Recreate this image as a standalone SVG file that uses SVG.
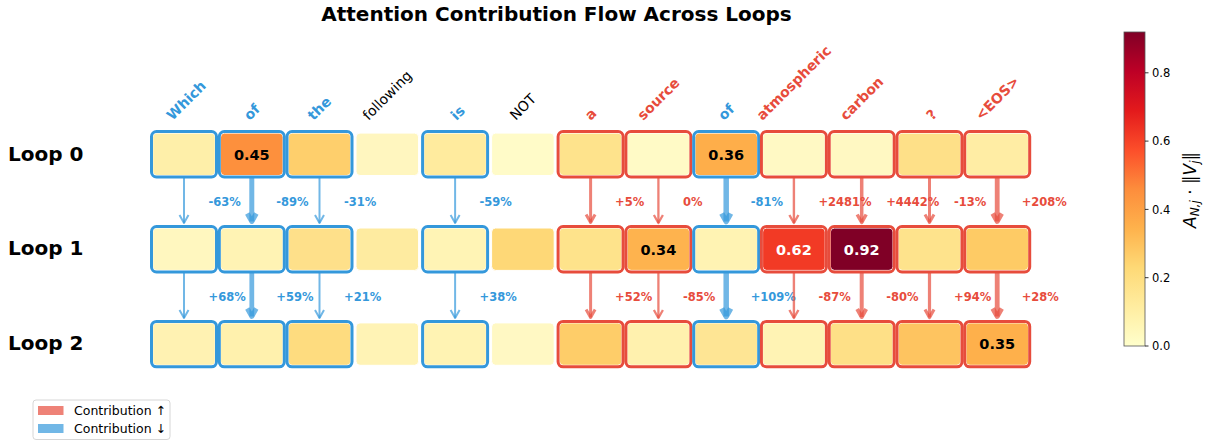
<svg xmlns="http://www.w3.org/2000/svg" width="1205" height="441" viewBox="0 0 1205 441">
  <defs>
    <linearGradient id="ylorrd" x1="0" y1="1" x2="0" y2="0">
      <stop offset="0" stop-color="#ffffcc"/>
      <stop offset="0.125" stop-color="#ffeda0"/>
      <stop offset="0.25" stop-color="#fed976"/>
      <stop offset="0.375" stop-color="#feb24c"/>
      <stop offset="0.5" stop-color="#fd8d3c"/>
      <stop offset="0.625" stop-color="#fc4e2a"/>
      <stop offset="0.75" stop-color="#e31a1c"/>
      <stop offset="0.875" stop-color="#bd0026"/>
      <stop offset="1" stop-color="#800026"/>
    </linearGradient>
  </defs>
  <style>
    text { font-family: "DejaVu Sans", "Liberation Sans", sans-serif; }
    .title { font-size: 20px; font-weight: bold; fill: #000; }
    .loop { font-size: 20px; font-weight: bold; fill: #000; }
    .tok { font-size: 14px; }
    .tok-b { fill: #3498db; font-weight: bold; }
    .tok-r { fill: #e74c3c; font-weight: bold; }
    .tok-k { fill: #000; }
    .cell { stroke: #ffffff; stroke-width: 1; }
    .ring { fill: none; stroke-width: 3; }
    .ring-b { stroke: #3498db; }
    .ring-r { stroke: #e74c3c; }
    .val { font-size: 14.5px; font-weight: bold; text-anchor: middle; }
    .shaft, .head { fill: none; stroke-opacity: 0.7; stroke-linecap: butt; stroke-linejoin: round; }
    .blue { stroke: #3498db; }
    .red { stroke: #e74c3c; }
    .pct { font-size: 11.5px; font-weight: bold; }
    .pct-b { fill: #3498db; }
    .pct-r { fill: #e74c3c; }
    .tick { font-size: 11.5px; fill: #000; }
    .legend { font-size: 12.5px; fill: #000; }
  </style>

  <text class="title" x="556.5" y="21" text-anchor="middle">Attention Contribution Flow Across Loops</text>

  <!-- row labels -->
  <g id="row-labels">
    <text class="loop" x="8" y="160.7">Loop 0</text>
    <text class="loop" x="8" y="255.3">Loop 1</text>
    <text class="loop" x="8" y="349.8">Loop 2</text>
  </g>

  <!-- token labels, rotated 45 degrees -->
  <g id="tokens" class="tok">
    <text class="tok-b" x="172.6" y="121" transform="rotate(-45 172.6 121)">Which</text>
    <text class="tok-b" x="249.7" y="121" transform="rotate(-45 249.7 121)">of</text>
    <text class="tok-b" x="313.6" y="121" transform="rotate(-45 313.6 121)">the</text>
    <text class="tok-k" x="368.4" y="121" transform="rotate(-45 368.4 121)">following</text>
    <text class="tok-b" x="456.6" y="121" transform="rotate(-45 456.6 121)">is</text>
    <text class="tok-k" x="515.7" y="121" transform="rotate(-45 515.7 121)">NOT</text>
    <text class="tok-r" x="590.7" y="121" transform="rotate(-45 590.7 121)">a</text>
    <text class="tok-r" x="643.3" y="121" transform="rotate(-45 643.3 121)">source</text>
    <text class="tok-b" x="724.1" y="121" transform="rotate(-45 724.1 121)">of</text>
    <text class="tok-r" x="762.6" y="121" transform="rotate(-45 762.6 121)">atmospheric</text>
    <text class="tok-r" x="845.9" y="121" transform="rotate(-45 845.9 121)">carbon</text>
    <text class="tok-r" x="932.2" y="121" transform="rotate(-45 932.2 121)">?</text>
    <text class="tok-r" x="981.2" y="121" transform="rotate(-45 981.2 121)">&lt;EOS&gt;</text>
  </g>

  <!-- connectors between loops -->
  <g id="connectors">
    <!-- loop 0 -> loop 1 -->
    <g id="e-0-c0"><path class="shaft blue" stroke-width="2" d="M184 178V223"/><path class="head blue" stroke-width="2" d="M179.5 215L184 223L188.5 215"/><text class="pct pct-b" x="208.5" y="205.7">-63%</text></g>
    <g id="e-0-c1"><path class="shaft blue" stroke-width="5" d="M251.8 178V221.5"/><path class="head blue" stroke-width="5" d="M247.3 213.5L251.8 221.5L256.3 213.5"/><text class="pct pct-b" x="276.3" y="205.7">-89%</text></g>
    <g id="e-0-c2"><path class="shaft blue" stroke-width="2" d="M319.5 178V223"/><path class="head blue" stroke-width="2" d="M315 215L319.5 223L324 215"/><text class="pct pct-b" x="344" y="205.7">-31%</text></g>
    <g id="e-0-c4"><path class="shaft blue" stroke-width="2" d="M455.1 178V223"/><path class="head blue" stroke-width="2" d="M450.6 215L455.1 223L459.6 215"/><text class="pct pct-b" x="479.6" y="205.7">-59%</text></g>
    <g id="e-0-c6"><path class="shaft red" stroke-width="3" d="M590.6 178V222.5"/><path class="head red" stroke-width="3" d="M586.1 214.5L590.6 222.5L595.1 214.5"/><text class="pct pct-r" x="615.1" y="205.7">+5%</text></g>
    <g id="e-0-c7"><path class="shaft red" stroke-width="2.3" d="M658.4 178V223"/><path class="head red" stroke-width="2.3" d="M653.9 215L658.4 223L662.9 215"/><text class="pct pct-r" x="682.9" y="205.7">0%</text></g>
    <g id="e-0-c8"><path class="shaft blue" stroke-width="5.5" d="M726.2 178V221.5"/><path class="head blue" stroke-width="5.5" d="M721.7 213.5L726.2 221.5L730.7 213.5"/><text class="pct pct-b" x="750.7" y="205.7">-81%</text></g>
    <g id="e-0-c9"><path class="shaft red" stroke-width="2.4" d="M793.9 178V223"/><path class="head red" stroke-width="2.4" d="M789.4 215L793.9 223L798.4 215"/><text class="pct pct-r" x="818.4" y="205.7">+2481%</text></g>
    <g id="e-0-c10"><path class="shaft red" stroke-width="3.5" d="M861.7 178V222.5"/><path class="head red" stroke-width="3.5" d="M857.2 214.5L861.7 222.5L866.2 214.5"/><text class="pct pct-r" x="886.2" y="205.7">+4442%</text></g>
    <g id="e-0-c11"><path class="shaft red" stroke-width="3" d="M929.5 178V222.5"/><path class="head red" stroke-width="3" d="M925 214.5L929.5 222.5L934 214.5"/><text class="pct pct-r" x="954" y="205.7">-13%</text></g>
    <g id="e-0-c12"><path class="shaft red" stroke-width="4.8" d="M997.2 178V221.5"/><path class="head red" stroke-width="4.8" d="M992.7 213.5L997.2 221.5L1001.7 213.5"/><text class="pct pct-r" x="1021.7" y="205.7">+208%</text></g>

    <!-- loop 1 -> loop 2 -->
    <g id="e-1-c0"><path class="shaft blue" stroke-width="2" d="M184 273V318"/><path class="head blue" stroke-width="2" d="M179.5 310L184 318L188.5 310"/><text class="pct pct-b" x="208.5" y="300.8">+68%</text></g>
    <g id="e-1-c1"><path class="shaft blue" stroke-width="4.8" d="M251.8 273V316.5"/><path class="head blue" stroke-width="4.8" d="M247.3 308.5L251.8 316.5L256.3 308.5"/><text class="pct pct-b" x="276.3" y="300.8">+59%</text></g>
    <g id="e-1-c2"><path class="shaft blue" stroke-width="2" d="M319.5 273V318"/><path class="head blue" stroke-width="2" d="M315 310L319.5 318L324 310"/><text class="pct pct-b" x="344" y="300.8">+21%</text></g>
    <g id="e-1-c4"><path class="shaft blue" stroke-width="2" d="M455.1 273V318"/><path class="head blue" stroke-width="2" d="M450.6 310L455.1 318L459.6 310"/><text class="pct pct-b" x="479.6" y="300.8">+38%</text></g>
    <g id="e-1-c6"><path class="shaft red" stroke-width="3" d="M590.6 273V317.5"/><path class="head red" stroke-width="3" d="M586.1 309.5L590.6 317.5L595.1 309.5"/><text class="pct pct-r" x="615.1" y="300.8">+52%</text></g>
    <g id="e-1-c7"><path class="shaft red" stroke-width="2.3" d="M658.4 273V318"/><path class="head red" stroke-width="2.3" d="M653.9 310L658.4 318L662.9 310"/><text class="pct pct-r" x="682.9" y="300.8">-85%</text></g>
    <g id="e-1-c8"><path class="shaft blue" stroke-width="5.5" d="M726.2 273V316.5"/><path class="head blue" stroke-width="5.5" d="M721.7 308.5L726.2 316.5L730.7 308.5"/><text class="pct pct-b" x="750.7" y="300.8">+109%</text></g>
    <g id="e-1-c9"><path class="shaft red" stroke-width="2.4" d="M793.9 273V318"/><path class="head red" stroke-width="2.4" d="M789.4 310L793.9 318L798.4 310"/><text class="pct pct-r" x="818.4" y="300.8">-87%</text></g>
    <g id="e-1-c10"><path class="shaft red" stroke-width="4" d="M861.7 273V317"/><path class="head red" stroke-width="4" d="M857.2 309L861.7 317L866.2 309"/><text class="pct pct-r" x="886.2" y="300.8">-80%</text></g>
    <g id="e-1-c11"><path class="shaft red" stroke-width="3.2" d="M929.5 273V317.5"/><path class="head red" stroke-width="3.2" d="M925 309.5L929.5 317.5L934 309.5"/><text class="pct pct-r" x="954" y="300.8">+94%</text></g>
    <g id="e-1-c12"><path class="shaft red" stroke-width="4.8" d="M997.2 273V316.5"/><path class="head red" stroke-width="4.8" d="M992.7 308.5L997.2 316.5L1001.7 308.5"/><text class="pct pct-r" x="1021.7" y="300.8">+28%</text></g>
  </g>

  <!-- loop 0 cells (cy = 154.3) -->
  <g id="n-0-0"><rect class="cell" x="152.7" y="133.1" width="62.6" height="42.4" rx="4" fill="#feefa9"/><rect class="ring ring-b" x="151.5" y="131.6" width="65" height="45.4" rx="5"/></g>
  <g id="n-0-1"><rect class="cell" x="220.5" y="133.1" width="62.6" height="42.4" rx="4" fill="#fd903d"/><rect class="ring ring-b" x="219.3" y="131.6" width="65" height="45.4" rx="5"/><text class="val" x="251.8" y="159.6" fill="#000">0.45</text></g>
  <g id="n-0-2"><rect class="cell" x="288.2" y="133.1" width="62.6" height="42.4" rx="4" fill="#fecf6c"/><rect class="ring ring-b" x="287" y="131.6" width="65" height="45.4" rx="5"/></g>
  <g id="n-0-3"><rect class="cell" x="356" y="133.1" width="62.6" height="42.4" rx="4" fill="#fff6bf"/></g>
  <g id="n-0-4"><rect class="cell" x="423.8" y="133.1" width="62.6" height="42.4" rx="4" fill="#ffeb9e"/><rect class="ring ring-b" x="422.6" y="131.6" width="65" height="45.4" rx="5"/></g>
  <g id="n-0-5"><rect class="cell" x="491.6" y="133.1" width="62.6" height="42.4" rx="4" fill="#fffbc8"/></g>
  <g id="n-0-6"><rect class="cell" x="559.3" y="133.1" width="62.6" height="42.4" rx="4" fill="#fee38c"/><rect class="ring ring-r" x="558.1" y="131.6" width="65" height="45.4" rx="5"/></g>
  <g id="n-0-7"><rect class="cell" x="627.1" y="133.1" width="62.6" height="42.4" rx="4" fill="#fffac6"/><rect class="ring ring-r" x="625.9" y="131.6" width="65" height="45.4" rx="5"/></g>
  <g id="n-0-8"><rect class="cell" x="694.9" y="133.1" width="62.6" height="42.4" rx="4" fill="#feae4a"/><rect class="ring ring-b" x="693.7" y="131.6" width="65" height="45.4" rx="5"/><text class="val" x="726.2" y="159.6" fill="#000">0.36</text></g>
  <g id="n-0-9"><rect class="cell" x="762.6" y="133.1" width="62.6" height="42.4" rx="4" fill="#fff9c4"/><rect class="ring ring-r" x="761.4" y="131.6" width="65" height="45.4" rx="5"/></g>
  <g id="n-0-10"><rect class="cell" x="830.4" y="133.1" width="62.6" height="42.4" rx="4" fill="#fff8c2"/><rect class="ring ring-r" x="829.2" y="131.6" width="65" height="45.4" rx="5"/></g>
  <g id="n-0-11"><rect class="cell" x="898.2" y="133.1" width="62.6" height="42.4" rx="4" fill="#fee088"/><rect class="ring ring-r" x="897" y="131.6" width="65" height="45.4" rx="5"/></g>
  <g id="n-0-12"><rect class="cell" x="965.9" y="133.1" width="62.6" height="42.4" rx="4" fill="#ffeda4"/><rect class="ring ring-r" x="964.7" y="131.6" width="65" height="45.4" rx="5"/></g>

  <!-- loop 1 cells (cy = 249.2) -->
  <g id="n-1-0"><rect class="cell" x="152.7" y="228" width="62.6" height="42.4" rx="4" fill="#fff7bf"/><rect class="ring ring-b" x="151.5" y="226.5" width="65" height="45.4" rx="5"/></g>
  <g id="n-1-1"><rect class="cell" x="220.5" y="228" width="62.6" height="42.4" rx="4" fill="#fff3b4"/><rect class="ring ring-b" x="219.3" y="226.5" width="65" height="45.4" rx="5"/></g>
  <g id="n-1-2"><rect class="cell" x="288.2" y="228" width="62.6" height="42.4" rx="4" fill="#fee08a"/><rect class="ring ring-b" x="287" y="226.5" width="65" height="45.4" rx="5"/></g>
  <g id="n-1-3"><rect class="cell" x="356" y="228" width="62.6" height="42.4" rx="4" fill="#feeba0"/></g>
  <g id="n-1-4"><rect class="cell" x="423.8" y="228" width="62.6" height="42.4" rx="4" fill="#fff4b5"/><rect class="ring ring-b" x="422.6" y="226.5" width="65" height="45.4" rx="5"/></g>
  <g id="n-1-5"><rect class="cell" x="491.6" y="228" width="62.6" height="42.4" rx="4" fill="#fed877"/></g>
  <g id="n-1-6"><rect class="cell" x="559.3" y="228" width="62.6" height="42.4" rx="4" fill="#fee38b"/><rect class="ring ring-r" x="558.1" y="226.5" width="65" height="45.4" rx="5"/></g>
  <g id="n-1-7"><rect class="cell" x="627.1" y="228" width="62.6" height="42.4" rx="4" fill="#feb34e"/><rect class="ring ring-r" x="625.9" y="226.5" width="65" height="45.4" rx="5"/><text class="val" x="658.4" y="254.5" fill="#000">0.34</text></g>
  <g id="n-1-8"><rect class="cell" x="694.9" y="228" width="62.6" height="42.4" rx="4" fill="#fff3b3"/><rect class="ring ring-b" x="693.7" y="226.5" width="65" height="45.4" rx="5"/></g>
  <g id="n-1-9"><rect class="cell" x="762.6" y="228" width="62.6" height="42.4" rx="4" fill="#f23a25"/><rect class="ring ring-r" x="761.4" y="226.5" width="65" height="45.4" rx="5"/><text class="val" x="793.9" y="254.5" fill="#ffffff">0.62</text></g>
  <g id="n-1-10"><rect class="cell" x="830.4" y="228" width="62.6" height="42.4" rx="4" fill="#800026"/><rect class="ring ring-r" x="829.2" y="226.5" width="65" height="45.4" rx="5"/><text class="val" x="861.7" y="254.5" fill="#ffffff">0.92</text></g>
  <g id="n-1-11"><rect class="cell" x="898.2" y="228" width="62.6" height="42.4" rx="4" fill="#fee38c"/><rect class="ring ring-r" x="897" y="226.5" width="65" height="45.4" rx="5"/></g>
  <g id="n-1-12"><rect class="cell" x="965.9" y="228" width="62.6" height="42.4" rx="4" fill="#fecb65"/><rect class="ring ring-r" x="964.7" y="226.5" width="65" height="45.4" rx="5"/></g>

  <!-- loop 2 cells (cy = 344.1) -->
  <g id="n-2-0"><rect class="cell" x="152.7" y="322.9" width="62.6" height="42.4" rx="4" fill="#fff2b2"/><rect class="ring ring-b" x="151.5" y="321.4" width="65" height="45.4" rx="5"/></g>
  <g id="n-2-1"><rect class="cell" x="220.5" y="322.9" width="62.6" height="42.4" rx="4" fill="#fff1ad"/><rect class="ring ring-b" x="219.3" y="321.4" width="65" height="45.4" rx="5"/></g>
  <g id="n-2-2"><rect class="cell" x="288.2" y="322.9" width="62.6" height="42.4" rx="4" fill="#fedc7f"/><rect class="ring ring-b" x="287" y="321.4" width="65" height="45.4" rx="5"/></g>
  <g id="n-2-3"><rect class="cell" x="356" y="322.9" width="62.6" height="42.4" rx="4" fill="#fff3b5"/></g>
  <g id="n-2-4"><rect class="cell" x="423.8" y="322.9" width="62.6" height="42.4" rx="4" fill="#fff3b3"/><rect class="ring ring-b" x="422.6" y="321.4" width="65" height="45.4" rx="5"/></g>
  <g id="n-2-5"><rect class="cell" x="491.6" y="322.9" width="62.6" height="42.4" rx="4" fill="#fff8c3"/></g>
  <g id="n-2-6"><rect class="cell" x="559.3" y="322.9" width="62.6" height="42.4" rx="4" fill="#fecd69"/><rect class="ring ring-r" x="558.1" y="321.4" width="65" height="45.4" rx="5"/></g>
  <g id="n-2-7"><rect class="cell" x="627.1" y="322.9" width="62.6" height="42.4" rx="4" fill="#fff1ae"/><rect class="ring ring-r" x="625.9" y="321.4" width="65" height="45.4" rx="5"/></g>
  <g id="n-2-8"><rect class="cell" x="694.9" y="322.9" width="62.6" height="42.4" rx="4" fill="#fee594"/><rect class="ring ring-b" x="693.7" y="321.4" width="65" height="45.4" rx="5"/></g>
  <g id="n-2-9"><rect class="cell" x="762.6" y="322.9" width="62.6" height="42.4" rx="4" fill="#fff3b4"/><rect class="ring ring-r" x="761.4" y="321.4" width="65" height="45.4" rx="5"/></g>
  <g id="n-2-10"><rect class="cell" x="830.4" y="322.9" width="62.6" height="42.4" rx="4" fill="#fee087"/><rect class="ring ring-r" x="829.2" y="321.4" width="65" height="45.4" rx="5"/></g>
  <g id="n-2-11"><rect class="cell" x="898.2" y="322.9" width="62.6" height="42.4" rx="4" fill="#fec460"/><rect class="ring ring-r" x="897" y="321.4" width="65" height="45.4" rx="5"/></g>
  <g id="n-2-12"><rect class="cell" x="965.9" y="322.9" width="62.6" height="42.4" rx="4" fill="#feb04b"/><rect class="ring ring-r" x="964.7" y="321.4" width="65" height="45.4" rx="5"/><text class="val" x="997.2" y="349.4" fill="#000">0.35</text></g>

  <!-- colour bar -->
  <g id="colorbar">
    <rect x="1124" y="32" width="21" height="314" fill="url(#ylorrd)" stroke="#555" stroke-width="0.8"/>
    <g stroke="#000" stroke-width="0.8">
      <path d="M1145 346h3.5M1145 277.7h3.5M1145 209.4h3.5M1145 141.1h3.5M1145 72.8h3.5"/>
    </g>
    <text class="tick" x="1152" y="350.2">0.0</text>
    <text class="tick" x="1152" y="281.9">0.2</text>
    <text class="tick" x="1152" y="213.6">0.4</text>
    <text class="tick" x="1152" y="145.3">0.6</text>
    <text class="tick" x="1152" y="77">0.8</text>
    <text transform="translate(1196 190) rotate(-90)" text-anchor="middle" font-size="17" fill="#000"><tspan font-style="italic">A</tspan><tspan font-size="12" font-style="italic" dy="3">N,j</tspan><tspan dy="-3"> · ‖</tspan><tspan font-style="italic">V</tspan><tspan font-size="12" font-style="italic" dy="3">j</tspan><tspan dy="-3">‖</tspan></text>
  </g>

  <!-- legend -->
  <g id="legend">
    <rect x="33" y="400" width="137" height="39.5" rx="3" fill="#ffffff" fill-opacity="0.8" stroke="#cccccc" stroke-width="0.8"/>
    <rect x="38" y="406" width="25.5" height="9" fill="#ee8277"/>
    <rect x="38" y="424" width="25.5" height="9" fill="#71b7e6"/>
    <text class="legend" x="74" y="415">Contribution ↑</text>
    <text class="legend" x="74" y="433">Contribution ↓</text>
  </g>
</svg>
